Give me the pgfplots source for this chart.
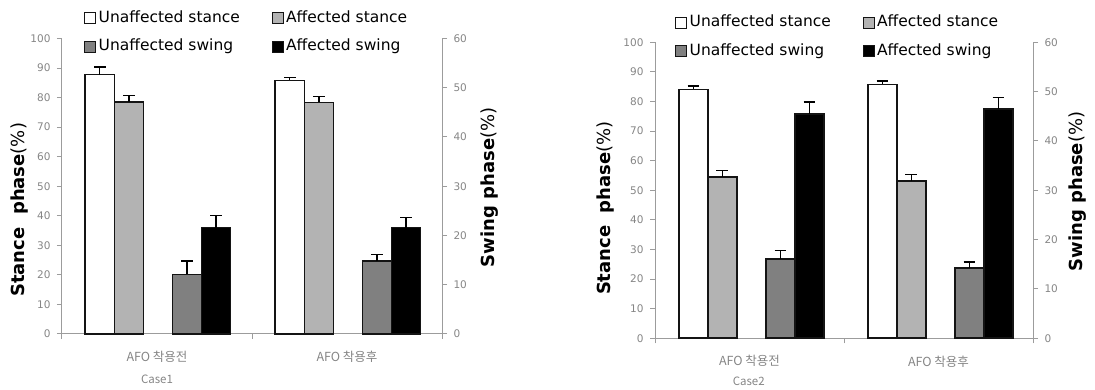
\documentclass[border=0pt]{standalone}
\usepackage{fontspec}
\setmainfont{DejaVu Sans}
\newfontfamily\kr{Noto Sans CJK KR}
\usepackage{pgfplots}
\usepackage{pgfplotstable}
\pgfplotsset{compat=1.18}

\definecolor{axgray}{HTML}{9C9C9C}
\definecolor{tickgray}{HTML}{858585}
\definecolor{ltgray}{HTML}{B3B3B3}
\definecolor{mdgray}{HTML}{808080}
\definecolor{edge}{HTML}{141414}

\pgfplotstableread{
x ua uae a ae
0 87.8 2.5 78.5 2.3
1 85.8 1.1 78.4 1.9
}\caseAstance
\pgfplotstableread{
x ua uae a ae
0 12.1 2.7 21.6 2.5
1 14.8 1.3 21.6 2.1
}\caseAswing
\pgfplotstableread{
x ua uae a ae
0 84.1 1.1 54.4 2.2
1 85.8 1.1 53.2 2.2
}\caseBstance
\pgfplotstableread{
x ua uae a ae
0 16.1 1.7 45.5 2.4
1 14.2 1.3 46.5 2.3
}\caseBswing

\pgfplotsset{
  mybar/.style={ybar, bar shift=0pt, draw=edge, line width=1.6pt, bar width=0.153,
    error bars/y dir=plus, error bars/y explicit,
    error bars/error bar style={draw=black, line width=1.3pt},
    error bars/error mark options={rotate=90, draw=black, line width=1.4pt, mark size=5.8pt}},
  base/.style={scale only axis, xmin=-0.5, xmax=1.5, ymin=0, clip=false,
    tick align=outside, major tick length=5pt,
    axis line style={draw=axgray, line width=1pt},
    tick style={draw=axgray, line width=1pt},
    /pgf/number format/assume math mode=true,
    legend image code/.code={\draw[##1] (0pt,-5.5pt) rectangle (11pt,5.5pt);},
    ylabel style={font=\fontsize{18}{20}\selectfont, anchor=center},
  },
  prim/.style={base, axis y line*=left, axis x line*=bottom, ymax=100, ytick={0,10,...,100},
    yticklabel style={font=\fontsize{10.5}{12}\selectfont, text=tickgray, xshift=-3pt},
    xtick={-0.5,0.5,1.5}, xticklabels={,,}, major tick length=5pt,
    extra x ticks={0,1}, extra x tick labels={AFO 착용전, AFO 착용후},
    extra x tick style={major tick length=0pt, tick style={draw=none},
      xticklabel style={font=\kr\fontsize{12.5}{14}\selectfont, text=tickgray, anchor=center, yshift=-23pt}},
    ylabel={\textbf{Stance\ \ phase}(\%)}},
  sec/.style={base, axis y line*=right, axis x line=none, ymax=60, ytick={0,10,...,60},
    yticklabel style={font=\fontsize{10.5}{12}\selectfont, text=tickgray, xshift=3pt},
    ylabel={\textbf{Swing phase}(\%)},
    legend columns=2, legend cell align=left,
    legend style={anchor=north west, draw=none, fill=none,
      font=\fontsize{15.5}{18}\selectfont, inner sep=0pt, row sep=14pt,
      nodes={inner xsep=2.5pt, inner ysep=0pt, text height=11.5pt, text depth=3pt},
      /tikz/every even column/.append style={column sep=29pt}},
    legend entries={Unaffected stance, Affected stance, Unaffected swing, Affected swing}},
}

\begin{document}
\begin{tikzpicture}[x=1pt,y=1pt]
\useasboundingbox (0,0) rectangle (1095,390);

% ---------- Case 1 ----------
\begin{axis}[prim, at={(62pt,56pt)}, anchor=south west, width=380pt, height=295.5pt,
  ylabel style={at={(axis description cs:-0.1105,0.42)}}]
\addplot[mybar, fill=white] table[x expr=\thisrow{x}-0.301, y=ua, y error=uae] {\caseAstance};
\addplot[mybar, fill=ltgray] table[x expr=\thisrow{x}-0.148, y=a, y error=ae] {\caseAstance};
\node[font=\kr\fontsize{11.5}{13}\selectfont, text=tickgray] at (axis description cs:0.25,-0.153) {Case1};
\end{axis}
\begin{axis}[sec, at={(62pt,56pt)}, anchor=south west, width=380pt, height=295.5pt,
  ylabel style={at={(axis description cs:1.124,0.496)}},
  legend style={at={(axis description cs:0.0579,1.094)}}]
\addlegendimage{fill=white, draw=edge, line width=1pt}
\addlegendimage{fill=ltgray, draw=edge, line width=1pt}
\addlegendimage{fill=mdgray, draw=edge, line width=1pt}
\addlegendimage{fill=black, draw=edge, line width=1pt}
\addplot[mybar, fill=mdgray, forget plot] table[x expr=\thisrow{x}+0.158, y=ua, y error=uae] {\caseAswing};
\addplot[mybar, fill=black, forget plot] table[x expr=\thisrow{x}+0.311, y=a, y error=ae] {\caseAswing};
\end{axis}

% ---------- Case 2 ----------
\begin{axis}[prim, at={(655pt,51.7pt)}, anchor=south west, width=378pt, height=296pt,
  ylabel style={at={(axis description cs:-0.132,0.44)}}]
\addplot[mybar, fill=white] table[x expr=\thisrow{x}-0.297, y=ua, y error=uae] {\caseBstance};
\addplot[mybar, fill=ltgray] table[x expr=\thisrow{x}-0.144, y=a, y error=ae] {\caseBstance};
\node[font=\kr\fontsize{11.5}{13}\selectfont, text=tickgray] at (axis description cs:0.248,-0.145) {Case2};
\end{axis}
\begin{axis}[sec, at={(655pt,51.7pt)}, anchor=south west, width=378pt, height=296pt,
  ylabel style={at={(axis description cs:1.118,0.496)}},
  legend style={at={(axis description cs:0.0529,1.092)}}]
\addlegendimage{fill=white, draw=edge, line width=1pt}
\addlegendimage{fill=ltgray, draw=edge, line width=1pt}
\addlegendimage{fill=mdgray, draw=edge, line width=1pt}
\addlegendimage{fill=black, draw=edge, line width=1pt}
\addplot[mybar, fill=mdgray, forget plot] table[x expr=\thisrow{x}+0.164, y=ua, y error=uae] {\caseBswing};
\addplot[mybar, fill=black, forget plot] table[x expr=\thisrow{x}+0.317, y=a, y error=ae] {\caseBswing};
\end{axis}
\end{tikzpicture}
\end{document}
